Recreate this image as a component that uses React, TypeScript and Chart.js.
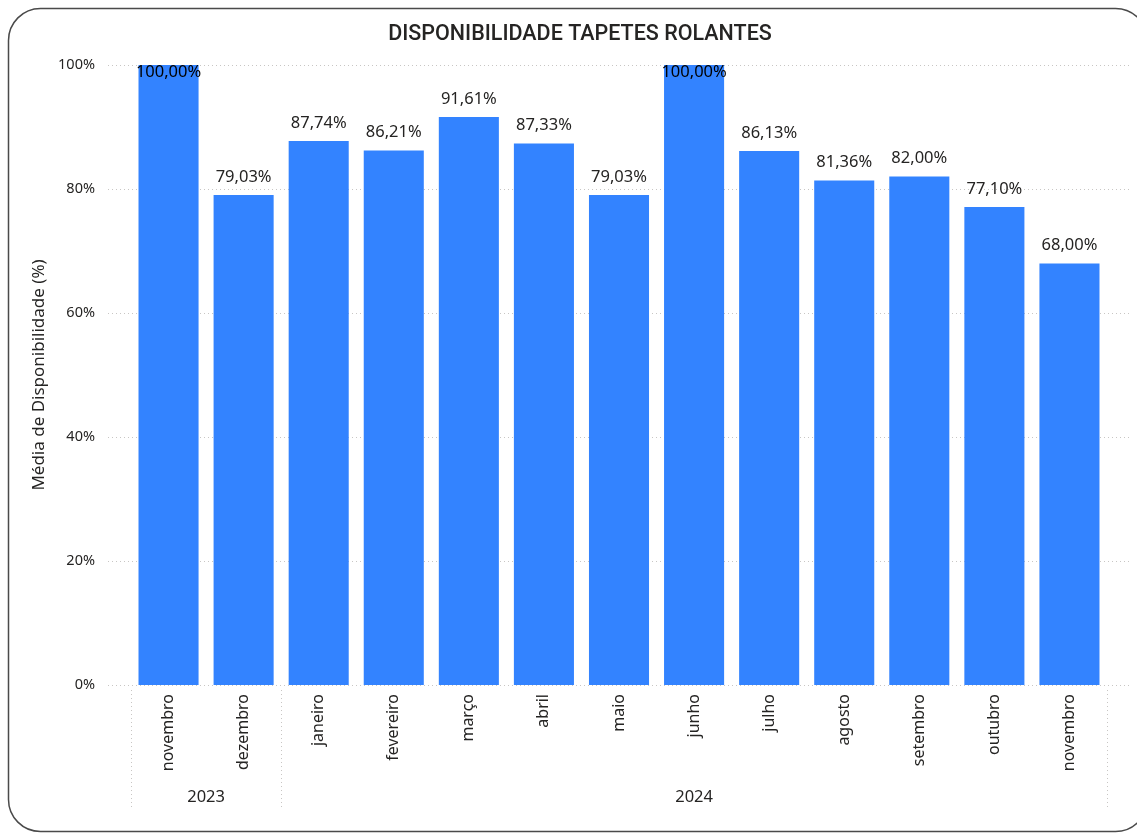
import React, { useEffect, useRef } from "react";
import { Chart, registerables } from "chart.js";

Chart.register(...registerables);

const months = ["novembro", "dezembro", "janeiro", "fevereiro", "março", "abril", "maio", "junho", "julho", "agosto", "setembro", "outubro", "novembro"];
const years = ["2023", "2024"];
const yearSpans = [2, 11];
const values = [100, 79.03, 87.74, 86.21, 91.61, 87.33, 79.03, 100, 86.13, 81.36, 82.0, 77.1, 68.0];
const yTicks = [0, 20, 40, 60, 80, 100];

const TITLE = "DISPONIBILIDADE TAPETES ROLANTES";
const Y_TITLE = "Média de Disponibilidade (%)";
const LABEL_FONT = "'Noto Sans', 'Open Sans', sans-serif";

const fmt = (v: number) => v.toFixed(2).replace(".", ",") + "%";

const decorPlugin = {
  id: "decor",
  beforeDraw(chart: any) {
    const ctx = chart.ctx;
    ctx.save();
    ctx.fillStyle = "#ffffff";
    ctx.fillRect(0, 0, chart.width, chart.height);
    // frame
    ctx.strokeStyle = "#4a4a4a";
    ctx.lineWidth = 1.5;
    ctx.beginPath();
    (ctx as any).roundRect(8.5, 8.5, 1139, 823, 32);
    ctx.stroke();
    // title
    ctx.fillStyle = "#252423";
    ctx.font = "500 21.5px Roboto, 'DejaVu Sans', sans-serif";
    ctx.textAlign = "center";
    ctx.textBaseline = "middle";
    ctx.fillText(TITLE, 580, 35);
    ctx.restore();
  },
  beforeDatasetsDraw(chart: any) {
    const ctx = chart.ctx;
    const y = chart.scales.y;
    const area = chart.chartArea;
    ctx.save();
    ctx.strokeStyle = "#c8c6c4";
    ctx.lineWidth = 1;
    ctx.setLineDash([1, 3]);
    yTicks.forEach((t) => {
      const py = Math.round(y.getPixelForValue(t)) + 0.5;
      ctx.beginPath();
      ctx.moveTo(108, py);
      ctx.lineTo(1131, py);
      ctx.stroke();
    });
    // vertical separators
    const catW = (area.right - area.left) / months.length;
    const seps = [0];
    let acc = 0;
    yearSpans.forEach((s) => { acc += s; seps.push(acc); });
    seps.forEach((i) => {
      const px = Math.round(area.left + i * catW) + 0.5;
      ctx.beginPath();
      ctx.moveTo(px, area.bottom + 5);
      ctx.lineTo(px, 810);
      ctx.stroke();
    });
    ctx.setLineDash([]);
    // year labels
    ctx.fillStyle = "#252423";
    ctx.font = "16.5px " + LABEL_FONT;
    ctx.textAlign = "center";
    ctx.textBaseline = "middle";
    let start = 0;
    years.forEach((yr, i) => {
      const end = start + yearSpans[i];
      const cx = area.left + ((start + end) / 2) * catW;
      ctx.fillText(yr, cx, 797);
      start = end;
    });
    ctx.restore();
  },
  afterDatasetsDraw(chart: any) {
    const ctx = chart.ctx;
    const meta = chart.getDatasetMeta(0);
    ctx.save();
    ctx.font = "16.5px " + LABEL_FONT;
    ctx.textAlign = "center";
    ctx.textBaseline = "middle";
    meta.data.forEach((bar: any, i: number) => {
      const v = values[i];
      if (v >= 99) {
        ctx.fillStyle = "#000000";
        ctx.fillText(fmt(v), bar.x, bar.y + 7);
      } else {
        ctx.fillStyle = "#252423";
        ctx.fillText(fmt(v), bar.x, bar.y - 18);
      }
    });
    ctx.restore();
  },
};

export default function App() {
  const ref = useRef<HTMLCanvasElement | null>(null);
  useEffect(() => {
    document.body.style.margin = "0";
    const canvas = ref.current!;
    const chart = new Chart(canvas, {
      type: "bar",
      data: {
        labels: months,
        datasets: [
          {
            data: values,
            backgroundColor: "#3383FF",
            barPercentage: 0.8,
            categoryPercentage: 1.0,
          },
        ],
      },
      options: {
        animation: false,
        responsive: false,
        devicePixelRatio: 1,
        layout: { padding: { left: 0, top: 65, right: 30, bottom: 0 } },
        plugins: { legend: { display: false }, tooltip: { enabled: false }, title: { display: false } },
        scales: {
          x: {
            grid: { display: false },
            border: { display: false },
            ticks: {
              maxRotation: 90,
              minRotation: 90,
              padding: 1,
              color: "#252423",
              font: { family: LABEL_FONT, size: 16 },
              autoSkip: false,
            },
            afterFit: (s: any) => { s.height = 833 - 685; },
          },
          y: {
            min: 0,
            max: 100,
            grid: { display: false },
            border: { display: false },
            ticks: {
              stepSize: 20,
              padding: 28,
              color: "#252423",
              font: { family: LABEL_FONT, size: 14.5 },
              callback: (v: any) => v + "%",
            },
            title: {
              display: true,
              text: Y_TITLE,
              color: "#252423",
              font: { family: LABEL_FONT, size: 17 },
              padding: { top: 29, bottom: 0 },
            },
            afterFit: (s: any) => { s.width = 131; },
          },
        },
      },
      plugins: [decorPlugin],
    });
    return () => chart.destroy();
  }, []);
  return (
    <div style={{ position: "fixed", left: 0, top: 0, width: 1137, height: 833 }}>
      <canvas ref={ref} width={1137} height={833} style={{ width: 1137, height: 833, display: "block" }} />
    </div>
  );
}
